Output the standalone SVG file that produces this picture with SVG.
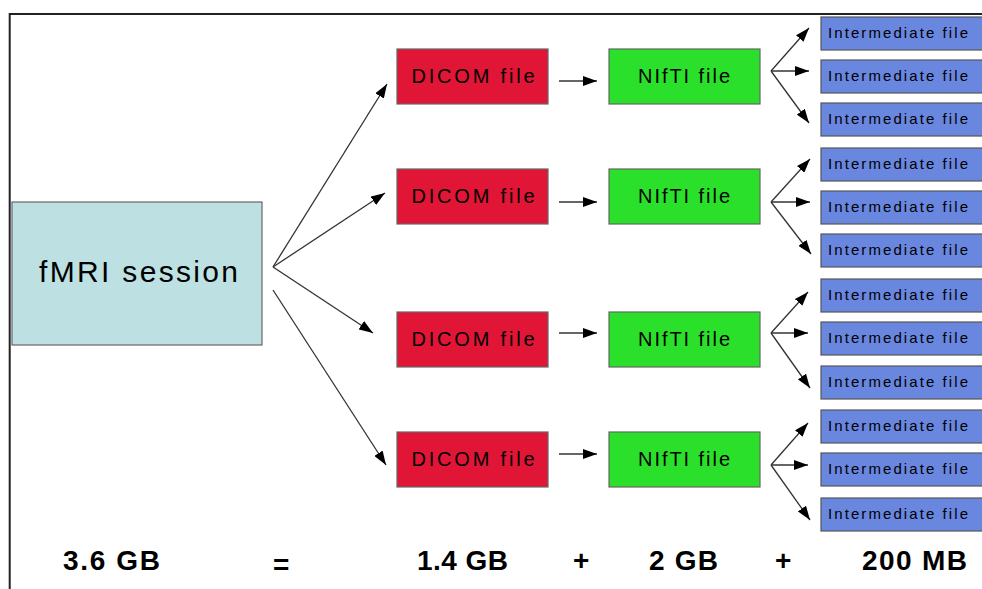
<svg xmlns="http://www.w3.org/2000/svg" width="982" height="589" viewBox="0 0 982 589">
<defs>
<style>
.lbl{font-family:"Liberation Sans",Arial,sans-serif;fill:#000}
.bx{stroke:#666;stroke-width:1.2}
.fmri{fill:#bde0e3}
.dicom{fill:#e11636}
.nifti{fill:#2ae02a}
.inter{fill:#6a87e0;stroke:#555;stroke-width:1.2}
.cn{stroke:#333;stroke-width:1.3;fill:none;marker-end:url(#ah)}
.tot{font-family:"Liberation Sans",Arial,sans-serif;font-weight:bold;font-size:28px;fill:#000}
</style>
<marker id="ah" markerWidth="14" markerHeight="10" refX="14" refY="5" orient="auto" markerUnits="userSpaceOnUse">
<path d="M0,0 L14,5 L0,10 z" fill="#000"/>
</marker>
</defs>
<rect width="982" height="589" fill="#fff"/>
<path d="M9.7,589 V14 H982" fill="none" stroke="#222" stroke-width="2"/>

<g id="fmri-session">
<rect class="bx fmri" x="12" y="202" width="250" height="143"/>
<text class="lbl" x="39" y="282" font-size="30" textLength="199" lengthAdjust="spacing">fMRI session</text>
</g>

<g id="dicom-1"><rect class="bx dicom" x="397" y="49" width="151" height="55"/><text class="lbl" x="473" y="83" font-size="20" text-anchor="middle" textLength="123" lengthAdjust="spacing">DICOM file</text></g>
<g id="dicom-2"><rect class="bx dicom" x="397" y="169" width="151" height="55"/><text class="lbl" x="473" y="203" font-size="20" text-anchor="middle" textLength="123" lengthAdjust="spacing">DICOM file</text></g>
<g id="dicom-3"><rect class="bx dicom" x="397" y="312" width="151" height="55"/><text class="lbl" x="473" y="346" font-size="20" text-anchor="middle" textLength="123" lengthAdjust="spacing">DICOM file</text></g>
<g id="dicom-4"><rect class="bx dicom" x="397" y="432" width="151" height="55"/><text class="lbl" x="473" y="466" font-size="20" text-anchor="middle" textLength="123" lengthAdjust="spacing">DICOM file</text></g>

<g id="nifti-1"><rect class="bx nifti" x="609" y="49" width="151" height="55"/><text class="lbl" x="684" y="83" font-size="20" text-anchor="middle" textLength="92" lengthAdjust="spacing">NIfTI file</text></g>
<g id="nifti-2"><rect class="bx nifti" x="609" y="169" width="151" height="55"/><text class="lbl" x="684" y="203" font-size="20" text-anchor="middle" textLength="92" lengthAdjust="spacing">NIfTI file</text></g>
<g id="nifti-3"><rect class="bx nifti" x="609" y="312" width="151" height="55"/><text class="lbl" x="684" y="346" font-size="20" text-anchor="middle" textLength="92" lengthAdjust="spacing">NIfTI file</text></g>
<g id="nifti-4"><rect class="bx nifti" x="609" y="432" width="151" height="55"/><text class="lbl" x="684" y="466" font-size="20" text-anchor="middle" textLength="92" lengthAdjust="spacing">NIfTI file</text></g>

<g id="inter-1-1"><rect class="inter" x="821" y="17" width="170" height="33"/><text class="lbl" x="828" y="38" font-size="15" textLength="140" lengthAdjust="spacing">Intermediate file</text></g>
<g id="inter-1-2"><rect class="inter" x="821" y="60" width="170" height="33"/><text class="lbl" x="828" y="81" font-size="15" textLength="140" lengthAdjust="spacing">Intermediate file</text></g>
<g id="inter-1-3"><rect class="inter" x="821" y="103" width="170" height="33"/><text class="lbl" x="828" y="124" font-size="15" textLength="140" lengthAdjust="spacing">Intermediate file</text></g>
<g id="inter-2-1"><rect class="inter" x="821" y="148" width="170" height="33"/><text class="lbl" x="828" y="169" font-size="15" textLength="140" lengthAdjust="spacing">Intermediate file</text></g>
<g id="inter-2-2"><rect class="inter" x="821" y="191" width="170" height="33"/><text class="lbl" x="828" y="212" font-size="15" textLength="140" lengthAdjust="spacing">Intermediate file</text></g>
<g id="inter-2-3"><rect class="inter" x="821" y="234" width="170" height="33"/><text class="lbl" x="828" y="255" font-size="15" textLength="140" lengthAdjust="spacing">Intermediate file</text></g>
<g id="inter-3-1"><rect class="inter" x="821" y="279" width="170" height="33"/><text class="lbl" x="828" y="300" font-size="15" textLength="140" lengthAdjust="spacing">Intermediate file</text></g>
<g id="inter-3-2"><rect class="inter" x="821" y="322" width="170" height="33"/><text class="lbl" x="828" y="343" font-size="15" textLength="140" lengthAdjust="spacing">Intermediate file</text></g>
<g id="inter-3-3"><rect class="inter" x="821" y="366" width="170" height="33"/><text class="lbl" x="828" y="387" font-size="15" textLength="140" lengthAdjust="spacing">Intermediate file</text></g>
<g id="inter-4-1"><rect class="inter" x="821" y="410" width="170" height="33"/><text class="lbl" x="828" y="431" font-size="15" textLength="140" lengthAdjust="spacing">Intermediate file</text></g>
<g id="inter-4-2"><rect class="inter" x="821" y="453" width="170" height="33"/><text class="lbl" x="828" y="474" font-size="15" textLength="140" lengthAdjust="spacing">Intermediate file</text></g>
<g id="inter-4-3"><rect class="inter" x="821" y="498" width="170" height="33"/><text class="lbl" x="828" y="519" font-size="15" textLength="140" lengthAdjust="spacing">Intermediate file</text></g>

<g id="connectors">
<line class="cn" x1="273" y1="267" x2="387" y2="84"/>
<line class="cn" x1="273" y1="267" x2="385" y2="193"/>
<line class="cn" x1="273" y1="267" x2="373" y2="333"/>
<line class="cn" x1="273" y1="290" x2="386" y2="465"/>

<line class="cn" x1="559" y1="81" x2="597" y2="81"/>
<line class="cn" x1="559" y1="202" x2="597" y2="202"/>
<line class="cn" x1="559" y1="333" x2="597" y2="333"/>
<line class="cn" x1="559" y1="454" x2="597" y2="454"/>

<line class="cn" x1="771" y1="71" x2="809" y2="28"/>
<line class="cn" x1="771" y1="71" x2="809" y2="71"/>
<line class="cn" x1="771" y1="71" x2="809" y2="123"/>
<line class="cn" x1="771" y1="202" x2="810" y2="159"/>
<line class="cn" x1="771" y1="202" x2="810" y2="202"/>
<line class="cn" x1="771" y1="202" x2="811" y2="254"/>
<line class="cn" x1="771" y1="333" x2="808" y2="292"/>
<line class="cn" x1="771" y1="333" x2="808" y2="333"/>
<line class="cn" x1="771" y1="333" x2="810" y2="388"/>
<line class="cn" x1="771" y1="465" x2="808" y2="423"/>
<line class="cn" x1="771" y1="465" x2="808" y2="465"/>
<line class="cn" x1="771" y1="465" x2="810" y2="520"/>
</g>

<g id="totals">
<text class="tot" x="63" y="570" textLength="97" lengthAdjust="spacing">3.6 GB</text>
<text class="tot" x="273" y="574">=</text>
<text class="tot" x="417" y="570" textLength="91" lengthAdjust="spacing">1.4 GB</text>
<text class="tot" x="573" y="570">+</text>
<text class="tot" x="649" y="570" textLength="69" lengthAdjust="spacing">2 GB</text>
<text class="tot" x="775" y="570">+</text>
<text class="tot" x="862" y="570" textLength="105" lengthAdjust="spacing">200 MB</text>
</g>
</svg>
